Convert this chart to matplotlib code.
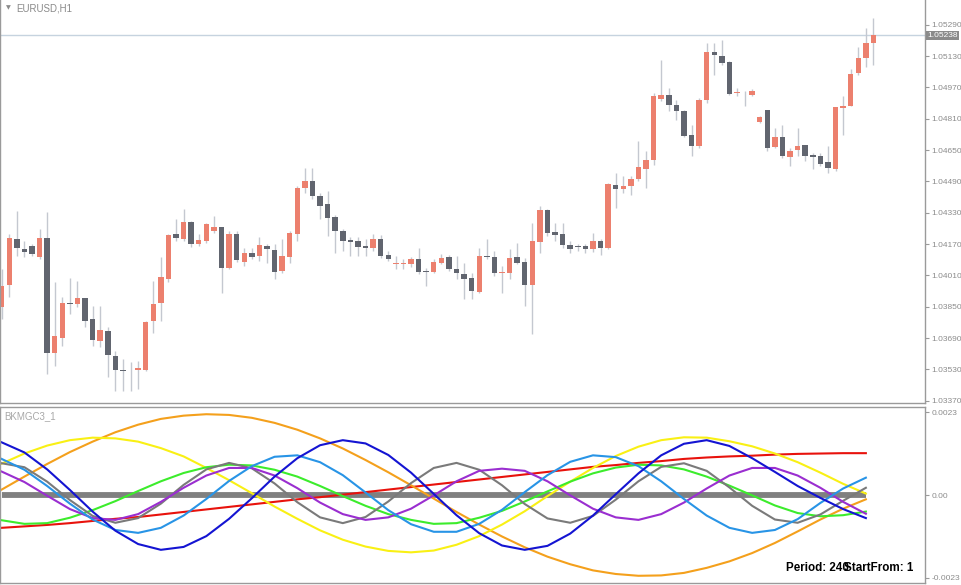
import matplotlib
matplotlib.use("Agg")
import matplotlib.pyplot as plt
import numpy as np

# EURUSD H1 candles (open, high, low, close)
opens = [1.03846, 1.03960, 1.04194, 1.04147, 1.04160, 1.04106, 1.04199, 1.03613, 1.03690, 1.03870,
         1.03864, 1.03892, 1.03785, 1.03676, 1.03725, 1.03599, 1.03526, 1.03528, 1.03525, 1.03528,
         1.03778, 1.03868, 1.03994, 1.04219, 1.04198, 1.04282, 1.04169, 1.04185, 1.04236, 1.04257,
         1.04050, 1.04223, 1.04080, 1.04126, 1.04109, 1.04162, 1.04141, 1.04032, 1.04104, 1.04219,
         1.04454, 1.04491, 1.04418, 1.04374, 1.04306, 1.04238, 1.04190, 1.04185, 1.04160, 1.04148,
         1.04194, 1.04112, 1.04067, 1.04068, 1.04067, 1.04096, 1.04031, 1.04027, 1.04075, 1.04104,
         1.04045, 1.04019, 1.03995, 1.03925, 1.04107, 1.04102, 1.04022, 1.04022, 1.04106, 1.04078,
         1.03960, 1.04182, 1.04343, 1.04231, 1.04219, 1.04163, 1.04158, 1.04160, 1.04143, 1.04185,
         1.04148, 1.04474, 1.04449, 1.04466, 1.04503, 1.04556, 1.04598, 1.04913, 1.04934, 1.04880,
         1.04851, 1.04729, 1.04669, 1.04904, 1.05152, 1.05132, 1.05100, 1.04943, 1.04934, 1.04931,
         1.04792, 1.04853, 1.04666, 1.04717, 1.04615, 1.04649, 1.04678, 1.04626, 1.04622, 1.04588,
         1.04556, 1.04865, 1.04877, 1.05044, 1.05120, 1.05199]
highs = [1.04041, 1.04219, 1.04338, 1.04185, 1.04169, 1.04245, 1.04333, 1.03975, 1.03898, 1.03995,
         1.03981, 1.03893, 1.03854, 1.03854, 1.03746, 1.03625, 1.03582, 1.03567, 1.03574, 1.03778,
         1.03981, 1.04102, 1.04219, 1.04296, 1.04347, 1.04287, 1.04219, 1.04279, 1.04313, 1.04259,
         1.04235, 1.04235, 1.04152, 1.04152, 1.04204, 1.04169, 1.04169, 1.04198, 1.04236, 1.04469,
         1.04559, 1.04559, 1.04432, 1.04440, 1.04321, 1.04245, 1.04208, 1.04208, 1.04194, 1.04219,
         1.04214, 1.04134, 1.04109, 1.04092, 1.04106, 1.04152, 1.04050, 1.04092, 1.04118, 1.04112,
         1.04109, 1.04075, 1.04024, 1.04152, 1.04194, 1.04134, 1.04058, 1.04143, 1.04177, 1.04101,
         1.04279, 1.04364, 1.04347, 1.04279, 1.04279, 1.04185, 1.04169, 1.04169, 1.04225, 1.04194,
         1.04483, 1.04534, 1.04517, 1.04517, 1.04695, 1.04644, 1.04942, 1.05111, 1.04967, 1.04907,
         1.04856, 1.04780, 1.04918, 1.05196, 1.05196, 1.05213, 1.05103, 1.04967, 1.04950, 1.04962,
         1.04826, 1.04856, 1.04763, 1.04780, 1.04661, 1.04763, 1.04678, 1.04636, 1.04636, 1.04669,
         1.04868, 1.04928, 1.05064, 1.05179, 1.05273, 1.05324]
lows = [1.03786, 1.03898, 1.04109, 1.04102, 1.04107, 1.04092, 1.03506, 1.03548, 1.03650, 1.03812,
        1.03846, 1.03746, 1.03650, 1.03642, 1.03491, 1.03421, 1.03421, 1.03421, 1.03430, 1.03521,
        1.03718, 1.03778, 1.03975, 1.04185, 1.04185, 1.04157, 1.04158, 1.04177, 1.04228, 1.03919,
        1.04041, 1.04077, 1.04058, 1.04092, 1.04083, 1.04075, 1.03994, 1.04024, 1.04075, 1.04185,
        1.04432, 1.04398, 1.04296, 1.04211, 1.04126, 1.04134, 1.04109, 1.04109, 1.04109, 1.04134,
        1.04101, 1.04083, 1.04041, 1.04041, 1.04055, 1.04016, 1.03956, 1.04024, 1.04067, 1.04032,
        1.03990, 1.03888, 1.03888, 1.03922, 1.04092, 1.04007, 1.03922, 1.03990, 1.04067, 1.03854,
        1.03710, 1.04126, 1.04211, 1.04185, 1.04152, 1.04123, 1.04134, 1.04126, 1.04129, 1.04112,
        1.04143, 1.04356, 1.04432, 1.04423, 1.04491, 1.04457, 1.04576, 1.04899, 1.04848, 1.04806,
        1.04719, 1.04619, 1.04663, 1.04891, 1.05035, 1.05086, 1.04933, 1.04924, 1.04873, 1.04924,
        1.04789, 1.04644, 1.04661, 1.04610, 1.04568, 1.04619, 1.04593, 1.04551, 1.04568, 1.04534,
        1.04542, 1.04729, 1.04873, 1.05035, 1.05077, 1.05086]
closes = [1.03956, 1.04203, 1.04148, 1.04129, 1.04118, 1.04199, 1.03613, 1.03698, 1.03868, 1.03865,
          1.03892, 1.03776, 1.03679, 1.03730, 1.03603, 1.03528, 1.03521, 1.03525, 1.03535, 1.03770,
          1.03863, 1.04002, 1.04214, 1.04203, 1.04282, 1.04169, 1.04190, 1.04274, 1.04259, 1.04048,
          1.04223, 1.04087, 1.04126, 1.04106, 1.04165, 1.04143, 1.04027, 1.04109, 1.04225, 1.04457,
          1.04491, 1.04415, 1.04367, 1.04302, 1.04236, 1.04185, 1.04180, 1.04157, 1.04148, 1.04194,
          1.04109, 1.04096, 1.04072, 1.04070, 1.04092, 1.04027, 1.04027, 1.04078, 1.04099, 1.04041,
          1.04024, 1.03990, 1.03931, 1.04109, 1.04102, 1.04022, 1.04027, 1.04097, 1.04075, 1.03960,
          1.04185, 1.04343, 1.04225, 1.04216, 1.04163, 1.04147, 1.04157, 1.04143, 1.04185, 1.04148,
          1.04479, 1.04449, 1.04466, 1.04505, 1.04562, 1.04602, 1.04924, 1.04934, 1.04878, 1.04848,
          1.04724, 1.04673, 1.04904, 1.05150, 1.05135, 1.05094, 1.04936, 1.04948, 1.04931, 1.04952,
          1.04819, 1.04661, 1.04717, 1.04619, 1.04648, 1.04673, 1.04619, 1.04617, 1.04581, 1.04559,
          1.04868, 1.04877, 1.05040, 1.05120, 1.05199, 1.05238]

price_ticks = [1.03370, 1.03530, 1.03690, 1.03850, 1.04010, 1.04170, 1.04330,
               1.04490, 1.04650, 1.04810, 1.04970, 1.05130, 1.05290]

# BKMGC3_1 indicator lines, read every 3 bars (values x 1e-4)
ind_bars = list(range(0, 115, 3))
ind_red = [-9.1, -8.7, -8.3, -7.8, -7.2, -6.6, -6.1, -5.4, -4.7, -4.0, -3.3, -2.6, -1.9,
           -1.2, -0.6, 0.1, 0.8, 1.5, 2.2, 2.9, 3.6, 4.3, 5.0, 5.7, 6.4, 7.1, 7.8, 8.3,
           8.9, 9.4, 10.0, 10.4, 10.7, 10.9, 11.2, 11.4, 11.5, 11.6, 11.6]
ind_orange = [1.5, 5.1, 8.6, 11.9, 14.8, 17.4, 19.5, 21.1, 22.0, 22.4, 22.2, 21.4, 20.0,
              18.1, 15.7, 12.9, 9.7, 6.3, 2.7, -1.0, -4.7, -8.2, -11.5, -14.5, -17.1, -19.2,
              -20.9, -21.9, -22.4, -22.3, -21.6, -20.2, -18.4, -16.1, -13.3, -10.1, -6.8,
              -3.8, -1.2]
ind_yellow = [8.7, 11.5, 13.7, 15.2, 15.9, 15.7, 14.8, 13.0, 10.7, 7.5, 4.1, 0.5, -3.2,
              -6.6, -9.8, -12.4, -14.3, -15.5, -15.9, -15.4, -13.8, -11.4, -8.2, -4.5, -0.3,
              3.7, 7.5, 10.8, 13.4, 15.2, 16.0, 15.9, 14.9, 13.5, 11.5, 9.1, 6.2, 3.1, 0.4]
ind_blue = [14.6, 11.8, 7.1, 1.4, -4.6, -9.9, -13.6, -15.2, -14.4, -11.4, -6.6, -0.9, 5.1,
            10.2, 13.8, 15.2, 14.3, 11.1, 6.2, 0.3, -5.6, -10.6, -14.0, -15.2, -14.1, -10.7,
            -5.7, 0.2, 6.0, 11.0, 14.2, 15.2, 13.6, 10.2, 6.4, 2.5, -0.8, -3.9, -6.4]
ind_lightblue = [10.0, 7.0, 2.5, -2.4, -6.8, -9.7, -10.5, -9.1, -5.7, -1.1, 3.9, 8.0, 10.6,
                 11.0, 9.1, 5.5, 0.7, -4.2, -8.1, -10.2, -10.2, -8.0, -4.1, 0.8, 5.5, 9.2,
                 11.0, 10.5, 8.0, 3.8, -1.1, -5.7, -9.1, -10.5, -9.7, -6.7, -2.2, 1.8, 4.8]
ind_green = [-7.0, -8.0, -7.8, -6.3, -4.2, -1.7, 1.1, 3.8, 6.1, 7.7, 8.4, 8.2, 7.0, 5.1,
             2.5, -0.3, -3.0, -5.3, -6.9, -8.0, -7.8, -6.3, -4.4, -1.8, 1.0, 3.7, 6.0, 7.6,
             8.4, 8.2, 7.1, 5.1, 2.6, -0.1, -2.9, -5.0, -5.9, -5.6, -4.6]
ind_gray = [8.8, 7.7, 3.7, -1.4, -5.8, -7.7, -6.4, -2.4, 2.8, 7.1, 8.9, 7.4, 3.2, -2.0,
            -6.2, -7.8, -6.1, -1.8, 3.3, 7.5, 8.9, 7.0, 2.7, -2.5, -6.5, -7.7, -5.8, -1.3,
            3.8, 7.8, 8.8, 6.7, 2.1, -3.0, -6.8, -7.7, -5.4, -1.6, 2.0]
ind_purple = [6.5, 3.6, -0.2, -3.9, -6.4, -6.9, -5.3, -1.9, 2.0, 5.4, 7.5, 7.5, 5.4, 1.9,
              -2.1, -5.3, -6.9, -6.2, -3.8, -0.1, 3.8, 6.7, 7.3, 6.7, 3.8, -0.1, -3.8, -6.2,
              -6.9, -5.3, -2.1, 1.8, 5.4, 7.5, 7.5, 5.4, 2.0, -1.9, -5.2]

bull_col = "#ec806e"
bear_col = "#61656f"
wick_col = "#c4c8d0"
frame_col = "#9a9a9a"
label_col = "#8c8c8c"

fig = plt.figure(figsize=(9.61, 5.85), dpi=100)
ax = fig.add_axes([0.0, 1 - 403 / 585, 925 / 961, 403 / 585])
ax2 = fig.add_axes([0.0, 2 / 585, 925 / 961, 176 / 585])

# candles
x = np.arange(len(opens))
o = np.array(opens)
c = np.array(closes)
up = c >= o
ax.vlines(x, lows, highs, color=wick_col, lw=1, zorder=1)
body_lo = np.minimum(o, c)
body_h = np.maximum(np.abs(c - o), 0.00003)
ax.bar(x[up], body_h[up], bottom=body_lo[up], width=0.72, color=bull_col, lw=0, zorder=2)
ax.bar(x[~up], body_h[~up], bottom=body_lo[~up], width=0.72, color=bear_col, lw=0, zorder=2)

ax.axhline(closes[-1], color="#c6d3df", lw=1, zorder=0)
ax.set_xlim(-0.22, 121.8)
ax.set_ylim(1.03358, 1.05417)
ax.yaxis.tick_right()
ax.set_yticks(price_ticks)
ax.set_yticklabels(["%.5f" % p for p in price_ticks])
ax.set_xticks([])
ax.tick_params(axis="y", length=3, width=0.8, color=frame_col, labelcolor=label_col,
               labelsize=6, pad=1.5)
for lab in ax.get_yticklabels():
    lab.set_family("Liberation Sans")
ax.annotate("%.5f" % closes[-1], xy=(1.0, closes[-1]), xycoords=("axes fraction", "data"),
            xytext=(1.5, 0), textcoords="offset points", ha="left", va="center",
            fontsize=6, family="Liberation Sans", color="white",
            bbox=dict(boxstyle="square,pad=0.12", fc="#8a8a8a", ec="none"))
ax.text(0.006, 0.987, "\u25bc", transform=ax.transAxes, fontsize=4.5, color="#8a8a8a",
        ha="left", va="top", family="DejaVu Sans")
ax.text(0.018, 0.991, "EURUSD,H1", transform=ax.transAxes, fontsize=7, color="#8a8a8a",
        ha="left", va="top", family="Liberation Sans")

# indicator pane
ib = np.array(ind_bars)
ax2.plot([ib[0], ib[-1]], [0, 0], color="#808080", lw=4.2, solid_capstyle="butt", zorder=1)
lines = [(ind_red, "#e8120c"), (ind_orange, "#f4a01c"), (ind_yellow, "#f9f014"),
         (ind_green, "#3cec2c"), (ind_gray, "#7a7a7a"), (ind_purple, "#9a2ed0"),
         (ind_lightblue, "#2894e6"), (ind_blue, "#1414d2")]
for vals, col in lines:
    ax2.plot(ib, np.array(vals) * 1e-4, color=col, lw=1.5, zorder=2,
             solid_joinstyle="round")
ax2.set_xlim(-0.22, 121.8)
ax2.set_ylim(-0.00244, 0.00244)
ax2.yaxis.tick_right()
ax2.set_yticks([0.0023, 0.0, -0.0023])
ax2.set_yticklabels(["0.0023", "0.00", "-0.0023"])
ax2.set_xticks([])
ax2.tick_params(axis="y", length=3, width=0.8, color=frame_col, labelcolor=label_col,
                labelsize=6, pad=1.5)
for lab in ax2.get_yticklabels():
    lab.set_family("Liberation Sans")
ax2.text(0.005, 0.975, "BKMGC3_1", transform=ax2.transAxes, fontsize=7, color="#a8a8a8",
         ha="left", va="top", family="Liberation Sans")
ax2.text(786 / 925, 0.07, "Period: 240", transform=ax2.transAxes, fontsize=8.4,
         fontweight="bold", color="black", ha="left", va="baseline", family="Liberation Sans")
ax2.text(844 / 925, 0.07, "StartFrom: 1", transform=ax2.transAxes, fontsize=8.4,
         fontweight="bold", color="black", ha="left", va="baseline", family="Liberation Sans")

for a in (ax, ax2):
    for s in a.spines.values():
        s.set_color(frame_col)
        s.set_linewidth(1)
ax.spines["top"].set_visible(False)

fig.savefig("out.png", dpi=100)
